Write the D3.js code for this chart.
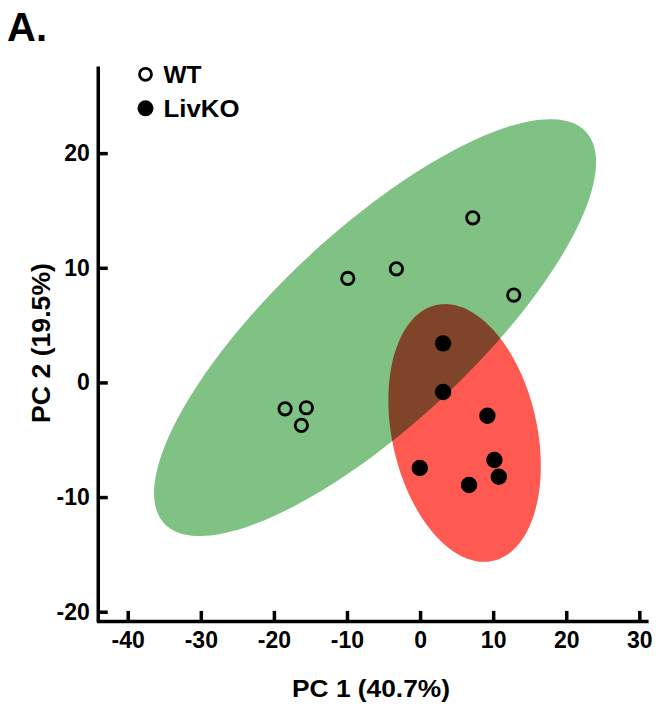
<!DOCTYPE html>
<html>
<head>
<meta charset="utf-8">
<script src="https://cdn.jsdelivr.net/npm/d3@7"></script>
<style>
  body { margin: 0; background: #fff; }
  svg text { font-family: "Liberation Sans", Arial, sans-serif; font-weight: bold; fill: #000; }
</style>
</head>
<body>
<svg id="chart" width="656" height="706"></svg>
<script>
// PCA scores
var groups = ["WT", "LivKO"];
var wtPC1 = [7.21, -3.24, -9.89, 12.82, -18.47, -15.56, -16.24];
var wtPC2 = [14.36, 9.91, 9.07, 7.62, -2.30, -2.21, -3.75];
var koPC1 = [3.15, 3.15, 9.21, -0.04, 10.17, 10.77, 6.70];
var koPC2 = [3.41, -0.84, -2.91, -7.47, -6.77, -8.23, -8.95];

// ellipses: centre plus two conjugate radius vectors, in PC units
var wtEllipse = { c: [-6.16, 4.78], u: [30.24, 14.43], v: [0, 11.06] };
var koEllipse = { c: [6.09, -4.41], u: [10.43, -2.87], v: [0, 10.87] };

var xTicks = [-40, -30, -20, -10, 0, 10, 20, 30];
var yTicks = [-20, -10, 0, 10, 20];

var svg = d3.select("#chart");

var x = d3.scaleLinear().domain([-44.3, 31.2]).range([96.3, 648.1]);
var y = d3.scaleLinear().domain([-20.8, 27.6]).range([620.9, 66]);

var wt = wtPC1.map(function(d, i) { return [d, wtPC2[i]]; });
var ko = koPC1.map(function(d, i) { return [d, koPC2[i]]; });

function ellipsePoints(e) {
    return d3.range(0, 180).map(function(i) {
        var t = i / 180 * 2 * Math.PI;
        return [e.c[0] + e.u[0] * Math.cos(t) + e.v[0] * Math.sin(t),
                e.c[1] + e.u[1] * Math.cos(t) + e.v[1] * Math.sin(t)];
    });
}

var line = d3.line()
    .x(function(d) { return x(d[0]); })
    .y(function(d) { return y(d[1]); })
    .curve(d3.curveLinearClosed);

var ell = svg.append("g").style("isolation", "isolate");
ell.append("path")
    .attr("d", line(ellipsePoints(wtEllipse)))
    .attr("fill", "#80c184");
ell.append("path")
    .attr("d", line(ellipsePoints(koEllipse)))
    .attr("fill", "#ff5a52")
    .style("mix-blend-mode", "multiply");

// axes, ticks pointing inward, plain hyphen for negatives
var plain = function(d) { return String(d); };
var xAxis = svg.append("g")
    .attr("transform", "translate(0," + y(-20.8) + ")")
    .call(d3.axisBottom(x).tickValues(xTicks).tickFormat(plain)
        .tickSizeInner(-10).tickSizeOuter(0).tickPadding(11));
var yAxis = svg.append("g")
    .attr("transform", "translate(" + x(-44.1) + ",0)")
    .call(d3.axisLeft(y).tickValues(yTicks).tickFormat(plain)
        .tickSizeInner(-10).tickSizeOuter(0).tickPadding(8));

[xAxis, yAxis].forEach(function(a) {
    a.selectAll("path, line").attr("stroke", "#000").attr("stroke-width", 3.5);
    a.selectAll("text")
        .style("font-family", "'Liberation Sans', Arial, sans-serif")
        .style("font-weight", "bold")
        .style("font-size", "23px")
        .attr("fill", "#000");
});

// points
svg.append("g").selectAll("circle")
    .data(wt).enter().append("circle")
    .attr("cx", function(d) { return x(d[0]); })
    .attr("cy", function(d) { return y(d[1]); })
    .attr("r", 6.2)
    .attr("fill", "none")
    .attr("stroke", "#000")
    .attr("stroke-width", 2.8);

svg.append("g").selectAll("circle")
    .data(ko).enter().append("circle")
    .attr("cx", function(d) { return x(d[0]); })
    .attr("cy", function(d) { return y(d[1]); })
    .attr("r", 8.2)
    .attr("fill", "#000");

// legend
var legend = svg.append("g").selectAll("g")
    .data(groups).enter().append("g")
    .attr("transform", function(d, i) { return "translate(145.5," + (74.3 + i * 34) + ")"; });

legend.append("circle")
    .attr("r", function(d, i) { return i === 0 ? 6 : 8; })
    .attr("fill", function(d, i) { return i === 0 ? "none" : "#000"; })
    .attr("stroke", function(d, i) { return i === 0 ? "#000" : "none"; })
    .attr("stroke-width", 2.8);

legend.append("text")
    .attr("x", 18)
    .attr("y", 8.5)
    .attr("textLength", function(d, i) { return i === 0 ? 38 : 76; })
    .attr("lengthAdjust", "spacingAndGlyphs")
    .style("font-size", "23px")
    .text(function(d) { return d; });

// titles
svg.append("text")
    .attr("x", 371)
    .attr("y", 697)
    .attr("text-anchor", "middle")
    .attr("textLength", 158)
    .attr("lengthAdjust", "spacingAndGlyphs")
    .style("font-size", "23px")
    .text("PC 1 (40.7%)");

svg.append("text")
    .attr("transform", "translate(50,343) rotate(-90)")
    .attr("text-anchor", "middle")
    .attr("textLength", 160)
    .attr("lengthAdjust", "spacingAndGlyphs")
    .style("font-size", "26px")
    .text("PC 2 (19.5%)");

svg.append("text")
    .attr("x", 7)
    .attr("y", 41)
    .style("font-size", "40px")
    .text("A.");
</script>
</body>
</html>
